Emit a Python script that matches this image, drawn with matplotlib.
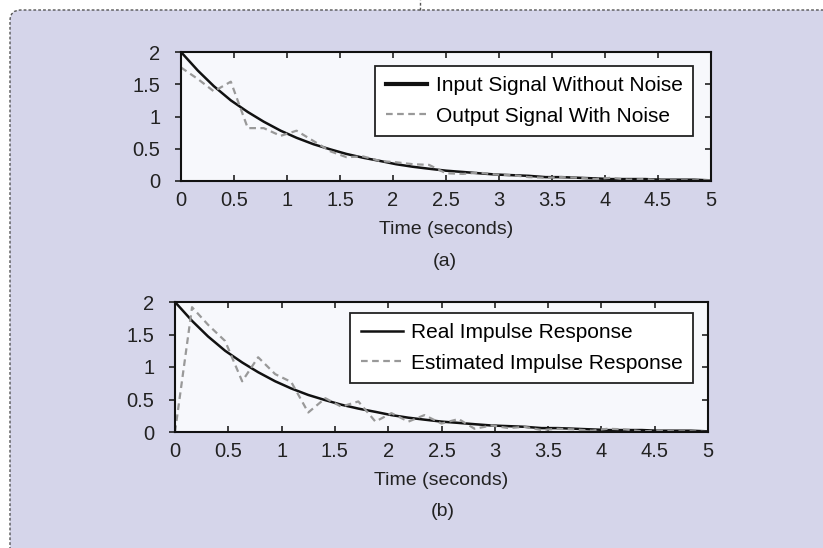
import matplotlib.pyplot as plt
from matplotlib.patches import FancyBboxPatch
from matplotlib.lines import Line2D

plt.rcParams['font.family'] = ['Liberation Sans', 'DejaVu Sans']

# sample times (seconds)
t = [0.0, 0.16, 0.31, 0.47, 0.63, 0.78, 0.94, 1.09, 1.25, 1.41, 1.56, 1.72,
     1.88, 2.03, 2.19, 2.34, 2.5, 2.66, 2.81, 2.97, 3.13, 3.28, 3.44, 3.59,
     3.75, 3.91, 4.06, 4.22, 4.38, 4.53, 4.69, 4.84, 5.0]

# (a) clean input vs noisy output
input_clean = [2.0, 1.71, 1.47, 1.25, 1.07, 0.92, 0.78, 0.67, 0.57, 0.49, 0.42, 0.36,
               0.31, 0.26, 0.22, 0.19, 0.16, 0.14, 0.12, 0.10, 0.09, 0.08, 0.06, 0.06,
               0.05, 0.04, 0.03, 0.03, 0.03, 0.02, 0.02, 0.02, 0.01]
output_noisy = [1.76, 1.58, 1.39, 1.54, 0.82, 0.82, 0.70, 0.78, 0.62, 0.46, 0.37, 0.38,
                0.31, 0.29, 0.26, 0.25, 0.12, 0.11, 0.13, 0.10, 0.09, 0.06, 0.05, 0.06,
                0.05, 0.03, 0.05, 0.02, 0.03, 0.01, 0.01, 0.01, 0.01]

# (b) real vs estimated impulse response
real_ir = input_clean
est_ir = [0.0, 1.92, 1.65, 1.40, 0.78, 1.15, 0.89, 0.77, 0.30, 0.52, 0.39, 0.47,
          0.16, 0.29, 0.16, 0.26, 0.13, 0.20, 0.05, 0.10, 0.06, 0.08, 0.03, 0.05,
          0.04, 0.02, 0.05, 0.04, 0.01, 0.02, 0.01, 0.01, 0.0]

xticks = [0, 0.5, 1, 1.5, 2, 2.5, 3, 3.5, 4, 4.5, 5]
xticklabels = ['0', '0.5', '1', '1.5', '2', '2.5', '3', '3.5', '4', '4.5', '5']
yticks = [0, 0.5, 1, 1.5, 2]
yticklabels = ['0', '0.5', '1', '1.5', '2']

bg = '#d5d5ea'
face = '#f7f8fc'
ink = '#222222'

fig = plt.figure(figsize=(8.23, 5.48), dpi=100)
fig.patch.set_facecolor('white')

# dashed rounded panel (cropped on right/bottom)
W, H = 823, 548
panel = FancyBboxPatch((10 / W, -0.1), 1.2, 1 - 10 / H + 0.1,
                       boxstyle='round,pad=0,rounding_size=0.013',
                       mutation_aspect=W / H,
                       transform=fig.transFigure, facecolor=bg,
                       edgecolor='#555555', linestyle=(0, (2, 1.5)), lw=1.0, zorder=-10)
fig.add_artist(panel)
fig.add_artist(Line2D([420 / W, 420 / W], [1 - 10 / H, 1.0], transform=fig.transFigure,
                      color='#555555', lw=1.0, linestyle=(0, (2, 1.5)), zorder=-10))


def style_axes(ax, label_y):
    ax.set_facecolor(face)
    ax.set_xlim(0, 5)
    ax.set_ylim(0, 2)
    ax.set_xticks(xticks)
    ax.set_xticklabels(xticklabels)
    ax.set_yticks(yticks)
    ax.set_yticklabels(yticklabels)
    ax.tick_params(axis='x', direction='in', top=True, bottom=True,
                   length=4, width=1.2, labelsize=14.5, pad=7, colors=ink)
    ax.tick_params(axis='y', direction='out', left=True, right=False,
                   length=4, width=1.2, labelsize=14.5, pad=11, colors=ink)
    sec = ax.secondary_yaxis('right')
    sec.set_yticks(yticks)
    sec.tick_params(direction='in', length=4, width=1.2, labelright=False, colors=ink)
    sec.spines['right'].set_visible(False)
    for s in ax.spines.values():
        s.set_linewidth(1.5)
        s.set_color('#111111')
    ax.set_xlabel('Time (seconds)', fontsize=14, color=ink, va='center')
    ax.xaxis.set_label_coords(0.5, label_y)


legend_kw = dict(loc='upper right', borderaxespad=0, fontsize=15, fancybox=False,
                 framealpha=1, edgecolor=ink, handletextpad=0.4,
                 labelspacing=0.53, borderpad=0.5)

ax1 = fig.add_axes([181 / W, 1 - 181 / H, 530 / W, 129 / H])
ax1.plot(t, input_clean, color='#111111', lw=1.8, label='Input Signal Without Noise')
ax1.plot(t, output_noisy, color='#999999', lw=1.6, linestyle=(0, (3, 2)),
         label='Output Signal With Noise')
style_axes(ax1, -0.376)
leg1 = ax1.legend(bbox_to_anchor=(0.966, 0.891), **legend_kw)
leg1.get_frame().set_linewidth(1.3)
leg1.get_lines()[0].set_linewidth(3)
fig.text(445 / W, 1 - 261 / H, '(a)', ha='center', va='center', fontsize=14, color=ink)

ax2 = fig.add_axes([175 / W, 1 - 432 / H, 533 / W, 130 / H])
ax2.plot(t, real_ir, color='#111111', lw=1.8, label='Real Impulse Response')
ax2.plot(t, est_ir, color='#999999', lw=1.6, linestyle=(0, (3, 2)),
         label='Estimated Impulse Response')
style_axes(ax2, -0.373)
leg2 = ax2.legend(bbox_to_anchor=(0.972, 0.915), **legend_kw)
leg2.get_frame().set_linewidth(1.3)
fig.text(443 / W, 1 - 511 / H, '(b)', ha='center', va='center', fontsize=14, color=ink)

fig.savefig('out.png', dpi=100, facecolor=fig.get_facecolor())
